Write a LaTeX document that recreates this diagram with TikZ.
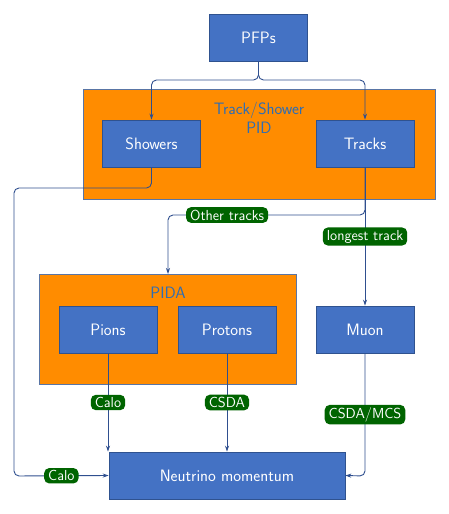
\documentclass[tikz,border=0pt]{standalone}
\usetikzlibrary{arrows.meta}
\definecolor{boxblue}{HTML}{4472C4}
\definecolor{edgeblue}{HTML}{2F528F}
\definecolor{lineblue}{HTML}{2F4F8F}
\definecolor{pidorange}{HTML}{FF8C00}
\definecolor{titleblue}{HTML}{2E6DB4}
\definecolor{lblgreen}{HTML}{006400}
\tikzset{
  stage/.style={draw=edgeblue, line width=0.6pt, fill=boxblue, text=white,
    minimum width=98pt, minimum height=47pt, inner sep=0pt,
    font=\sffamily\fontsize{16.5}{19}\selectfont},
  group/.style={draw=edgeblue!80, line width=0.6pt, fill=pidorange},
  grouptitle/.style={text=titleblue, align=center,
    font=\sffamily\fontsize{16.5}{18.5}\selectfont},
  flow/.style={draw=lineblue, line width=0.9pt, rounded corners=5pt,
    -{Stealth[length=6pt,width=4pt]}},
  tag/.style={fill=lblgreen, text=white, rounded corners=5pt,
    inner xsep=4pt, inner ysep=2.5pt, font=\sffamily\fontsize{14.5}{16}\selectfont}
}
\begin{document}
\begin{tikzpicture}[x=1pt,y=-1pt]
    \useasboundingbox (0,0) rectangle (449,514);

    % Orange group boxes
    \draw[group] (83,89) rectangle (435,199);
    \node[grouptitle] (tspid) at (259,118) {Track/Shower\\PID};
    \draw[group] (39,274) rectangle (296,384);
    \node[grouptitle] (pida) at (168,293) {PIDA};
    \coordinate (pidatop) at (168,274);

    % Stages
    \node[stage] (pfps) at (258.5,37.5) {PFPs};
    \node[stage] (showers) at (151.5,143.5) {Showers};
    \node[stage] (tracks) at (365,143.5) {Tracks};
    \node[stage] (pions) at (108,329.5) {Pions};
    \node[stage] (protons) at (227,329.5) {Protons};
    \node[stage] (muon) at (365,329.5) {Muon};
    \node[stage, minimum width=236pt] (numom) at (227,475.5) {Neutrino momentum};

    % Turning points of the connectors
    \coordinate (split) at (258.5,80);
    \coordinate (shbend) at (151.5,188);
    \coordinate (shleft) at (14,188);
    \coordinate (shdown) at (14,476);
    \coordinate (trbend) at (365,215);
    \coordinate (trleft) at (168,215);
    \coordinate (mubend) at (365,476);

    % Connectors
    \draw[flow] (pfps.south) -- (split) -| (showers.north);
    \draw[flow] (pfps.south) -- (split) -| (tracks.north);
    \draw[flow] (showers.south) -- (shbend) -- (shleft) -- (shdown)
        -- node[tag] {Calo} (numom.west);
    \draw[flow] (tracks.south) -- (trbend)
        -- node[tag, pos=0.7] {Other tracks} (trleft) -- (pidatop);
    \draw[flow] (tracks.south) -- node[tag] {longest track} (muon.north);
    \draw[flow] (pions.south) -- node[tag] {Calo} (pions.south |- numom.north);
    \draw[flow] (protons.south) -- node[tag] {CSDA} (numom.north);
    \draw[flow] (muon.south) -- node[tag] {CSDA/MCS} (mubend) -- (numom.east);

\end{tikzpicture}
\end{document}
